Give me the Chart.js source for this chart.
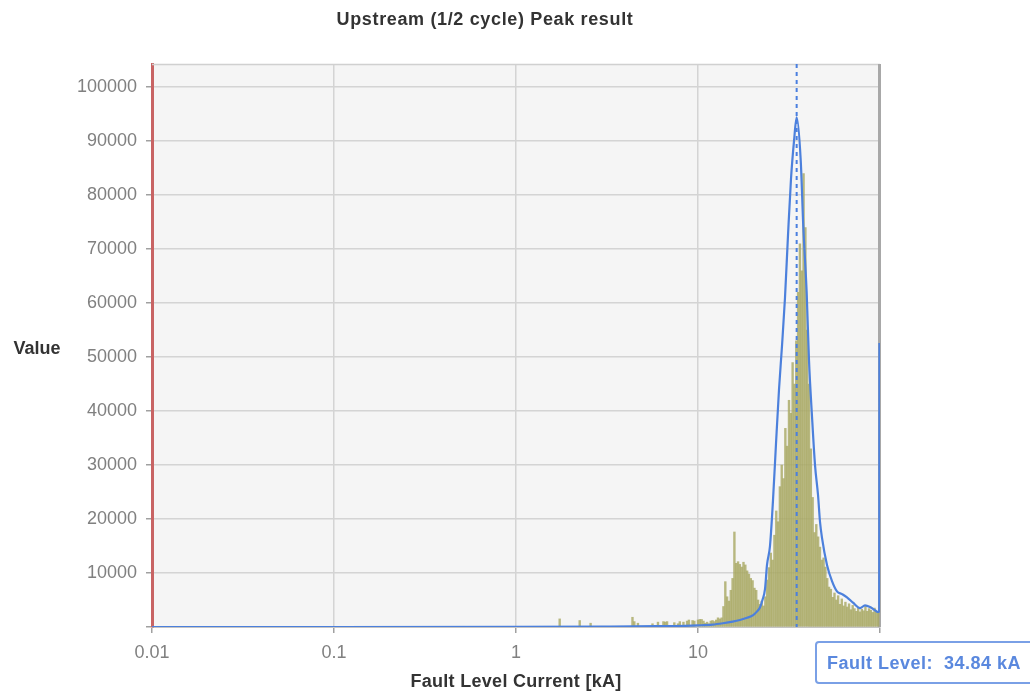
<!DOCTYPE html>
<html>
<head>
<meta charset="utf-8">
<script src="https://cdn.jsdelivr.net/npm/chart.js@4.4.1/dist/chart.umd.min.js"></script>
<style>
  html, body { margin: 0; padding: 0; background: #ffffff; }
  #wrap { width: 1030px; height: 695px; }
</style>
</head>
<body>
<div id="wrap"><canvas id="chart" width="1030" height="695"></canvas></div>
<script>
// ---- texts ----
const chartTitle = 'Upstream (1/2 cycle) Peak result';
const xAxisTitle = 'Fault Level Current [kA]';
const yAxisTitle = 'Value';

// ---- fault level marker (kA) ----
const faultLevelKA = 34.84;

// ---- axis ticks ----
const xTickValues = [0.01, 0.1, 1, 10, 100];
const xTickLabels = ['0.01', '0.1', '1', '10', '100'];
const yTickValues = [0, 10000, 20000, 30000, 40000, 50000, 60000, 70000, 80000, 90000, 100000];
const yTickLabels = ['', '10000', '20000', '30000', '40000', '50000', '60000', '70000', '80000', '90000', '100000'];
const yMax = 104300;

// ---- histogram bins: bin position (kA) and count ----
const histKA = [
  1.738, 2.239, 2.570, 4.365, 4.467, 4.677, 5.623, 6.026, 6.457, 6.607,
  6.761, 7.413, 7.762, 7.943, 8.318, 8.710, 8.913, 9.333, 9.550,
  10.00, 10.23, 10.47, 10.72, 10.96, 11.22, 11.48, 11.75, 12.02, 12.30,
  12.59, 12.88, 13.18, 13.49, 13.80, 14.13, 14.45, 14.79, 15.14, 15.49,
  15.85, 16.22, 16.60, 16.98, 17.38, 17.78, 18.20, 18.62, 19.05, 19.50,
  19.95, 20.42, 20.89, 21.38, 21.88, 22.39, 22.91, 23.44, 23.99, 24.55,
  25.12, 25.70, 26.30, 26.92, 27.54, 28.18, 28.84, 29.51, 30.20, 30.90,
  31.62, 32.36, 33.11, 33.88, 34.67, 35.48, 36.31, 37.15, 38.02, 38.91,
  39.81, 40.74, 41.69, 42.66, 43.65, 44.67, 45.71, 46.77, 47.86, 48.98,
  50.12, 51.29, 52.48, 53.70, 54.95, 56.23, 57.54, 58.88, 60.26, 61.66,
  63.10, 64.57, 66.07, 67.61, 69.18, 70.79, 72.44, 74.13, 75.86, 77.62,
  79.43, 81.28, 83.18, 85.11, 87.10, 89.13, 91.20, 93.33, 95.50, 97.72
];
const histCount = [
  1500, 1200, 700, 1800, 1000, 700, 600, 900, 1000, 900,
  1000, 800, 600, 1000, 900, 1100, 1300, 1200, 1100,
  1300, 1400, 1400, 1100, 700, 900, 600, 1100, 1200, 1000,
  1300, 1700, 1500, 1700, 3800, 8400, 5600, 4800, 6800, 9000,
  17600, 11800, 12100, 11600, 11100, 12000, 11500, 10400, 9800, 9000,
  8600, 7200, 6800, 5000, 4200, 4800, 3900, 5600, 8700, 11000,
  13700, 12400, 17000, 21500, 19500, 26000, 30000, 27500, 36800, 33500,
  42000, 39600, 49000, 45000, 53000, 62000, 71000, 66000, 84000, 74000,
  55000, 45000, 33000, 24000, 17500, 19000, 16700, 14800, 12400, 12800,
  11100, 9000, 7400, 7000, 5500, 6300, 5000, 5800, 4200, 5200,
  3900, 4600, 3700, 4300, 3200, 4000, 3400, 2900, 3600, 2800,
  3300, 3000, 3800, 2900, 3400, 3100, 2700, 3500, 2800, 2600
];

// ---- fitted distribution curve: position (kA) and value ----
const curveKA = [
  0.01, 0.1, 1, 3, 6, 8.5, 10.0, 12.0, 13.7, 15.5,
  17.0, 18.6, 20.1, 21.0, 21.9, 22.6, 23.34, 23.94, 24.86, 25.83,
  26.83, 27.87, 28.93, 30.06, 31.22, 32.43, 33.69, 34.84, 36.67, 37.90,
  39.56, 40.73, 42.31, 43.95, 45.64, 46.81, 48.01, 51.14, 54.49, 58.03,
  61.84, 65.87, 71.07, 77.65, 82.72, 88.13, 93.86, 96.89, 99.0, 99.3
];
const curveValue = [
  0, 0, 20, 80, 150, 220, 300, 450, 700, 1000,
  1300, 1700, 2200, 2800, 3600, 5000, 7000, 11500, 15000, 23500,
  34000, 44000, 52000, 61000, 72500, 83000, 90000, 94400, 86500, 74100,
  61800, 49400, 39000, 30000, 24500, 19500, 16500, 11500, 8500, 6600,
  6100, 5500, 4500, 3500, 4000, 3700, 3100, 2800, 2900, 52600
];

const FONT = '"Liberation Sans", Arial, Helvetica, sans-serif';

// plot background plus top/right frame lines
const framePlugin = {
  id: 'frame',
  beforeDraw(chart) {
    const { ctx, chartArea: a } = chart;
    ctx.save();
    ctx.fillStyle = '#f5f5f5';
    ctx.fillRect(a.left, a.top, a.right - a.left, a.bottom - a.top);
    ctx.restore();
  },
  beforeDatasetsDraw(chart) {
    const { ctx, chartArea: a } = chart;
    ctx.save();
    ctx.strokeStyle = '#d0d0d0';
    ctx.lineWidth = 1.5;
    ctx.beginPath();
    ctx.moveTo(a.left, a.top + 0.5);
    ctx.lineTo(a.right, a.top + 0.5);
    ctx.stroke();
    ctx.strokeStyle = '#a8a8a8';
    ctx.lineWidth = 3;
    ctx.beginPath();
    ctx.moveTo(a.right - 0.5, a.top);
    ctx.lineTo(a.right - 0.5, a.bottom);
    ctx.stroke();
    ctx.restore();
  }
};

// chart title, axis titles and the fault level readout
const textPlugin = {
  id: 'texts',
  afterDraw(chart) {
    const { ctx, chartArea: a } = chart;
    ctx.save();
    ctx.fillStyle = '#333333';
    ctx.textBaseline = 'middle';
    ctx.textAlign = 'center';
    ctx.font = 'bold 18px ' + FONT;
    ctx.letterSpacing = '0.65px';
    ctx.fillText(chartTitle, 485, 20);
    ctx.letterSpacing = '0px';
    ctx.fillText(yAxisTitle, 37, 349);
    ctx.letterSpacing = '0.3px';
    ctx.fillText(xAxisTitle, (a.left + a.right) / 2, 682);
    ctx.letterSpacing = '0px';

    // fault level box
    ctx.fillStyle = '#ffffff';
    ctx.strokeStyle = '#7aa0e6';
    ctx.lineWidth = 2;
    ctx.beginPath();
    ctx.roundRect(816, 642, 240, 41, 3);
    ctx.fill();
    ctx.stroke();
    ctx.fillStyle = '#5a88de';
    ctx.textAlign = 'left';
    ctx.font = 'bold 18px ' + FONT;
    ctx.letterSpacing = '0.5px';
    ctx.fillText('Fault Level:  ' + faultLevelKA.toFixed(2) + ' kA', 827, 664);
    ctx.restore();
  }
};

const histPoints = histKA.map((k, i) => ({ x: k, y: histCount[i] }));
const curvePoints = curveKA.map((k, i) => ({ x: k, y: curveValue[i] }));
const faultPoints = [{ x: faultLevelKA, y: yMax }, { x: faultLevelKA, y: 0 }];

new Chart(document.getElementById('chart'), {
  type: 'bar',
  data: {
    datasets: [
      {
        type: 'line',
        label: 'Fault Level',
        data: faultPoints,
        borderColor: '#4a7fe0',
        borderWidth: 2,
        borderDash: [4, 4],
        pointRadius: 0,
        order: 1
      },
      {
        type: 'line',
        label: 'Distribution',
        data: curvePoints,
        borderColor: '#4c80dc',
        borderWidth: 2.2,
        pointRadius: 0,
        cubicInterpolationMode: 'monotone',
        order: 2
      },
      {
        type: 'bar',
        label: 'Count',
        data: histPoints,
        backgroundColor: 'rgba(168,168,98,0.8)',
        borderWidth: 0,
        barPercentage: 1,
        categoryPercentage: 1,
        grouped: false,
        order: 3
      }
    ]
  },
  options: {
    responsive: false,
    animation: false,
    events: [],
    layout: { padding: { left: 0, right: 150, top: 64, bottom: 0 } },
    plugins: {
      legend: { display: false },
      tooltip: { enabled: false },
      title: { display: false }
    },
    scales: {
      x: {
        type: 'logarithmic',
        min: 0.01,
        max: 100,
        offset: false,
        grid: { offset: false, color: '#d4d4d4', lineWidth: 1.5, drawTicks: true, tickLength: 6, tickColor: '#a0a0a0' },
        border: { color: '#c4c4c4', width: 1 },
        ticks: {
          font: { family: FONT, size: 18 },
          color: '#808080',
          padding: 9,
          autoSkip: false,
          maxRotation: 0,
          callback: (v) => {
            const i = xTickValues.indexOf(v);
            return i >= 0 ? xTickLabels[i] : '';
          }
        },
        afterBuildTicks: (s) => { s.ticks = xTickValues.map(v => ({ value: v })); },
        afterFit: (s) => { s.height = 68; }
      },
      y: {
        type: 'linear',
        min: 0,
        max: yMax,
        grid: { color: '#d4d4d4', lineWidth: 1.5, drawTicks: true, tickLength: 6, tickColor: '#a0a0a0' },
        border: { color: '#c86464', width: 3 },
        ticks: {
          font: { family: FONT, size: 18 },
          color: '#808080',
          padding: 9,
          callback: (v) => {
            const i = yTickValues.indexOf(v);
            return i >= 0 ? yTickLabels[i] : '';
          }
        },
        afterBuildTicks: (s) => { s.ticks = yTickValues.map(v => ({ value: v })); },
        afterFit: (s) => { s.width = 152; }
      }
    }
  },
  plugins: [framePlugin, textPlugin]
});
</script>
</body>
</html>
